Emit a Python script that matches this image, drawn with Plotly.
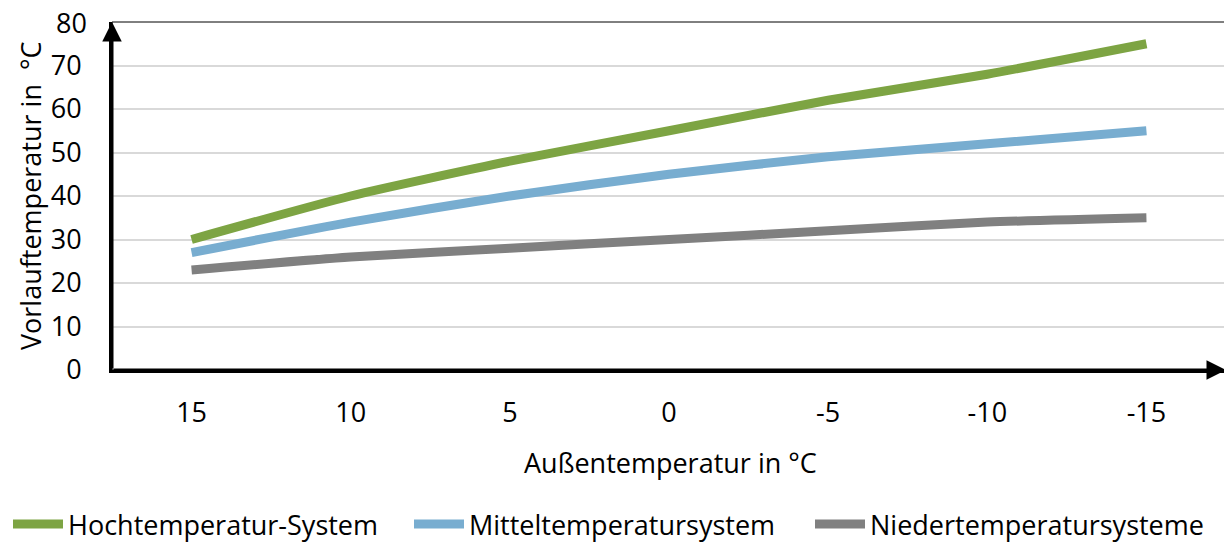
import plotly.graph_objects as go

categories = ["15", "10", "5", "0", "-5", "-10", "-15"]
hoch = [30, 40, 48, 55, 62, 68, 75]
mittel = [27, 34, 40, 45, 49, 52, 55]
nieder = [23, 26, 28, 30, 32, 34, 35]
series_names = ["Hochtemperatur-System", "Mitteltemperatursystem", "Niedertemperatursysteme"]
colors = ["#7DA443", "#78ADD0", "#808080"]
y_ticks = [0, 10, 20, 30, 40, 50, 60, 70, 80]

FONT = "Open Sans"
FS = 27
# page body has an 8px margin, so the figure is 8px smaller and shifted
L, T, R, B = 104, 14, 6, 172
W, H = 1224, 534
PW, PH = W - L - R, H - T - B

fig = go.Figure()
for name, vals, col in zip(series_names, [hoch, mittel, nieder], colors):
    fig.add_trace(go.Scatter(x=categories, y=vals, name=name, mode="lines",
                             line=dict(color=col, width=9, shape="spline", smoothing=0.6)))

fig.update_layout(
    width=W, height=H,
    margin=dict(l=L, r=R, t=T, b=B, autoexpand=False),
    plot_bgcolor="white", paper_bgcolor="white",
    font=dict(family=FONT, size=FS, color="#000000"),
    showlegend=True,
    legend=dict(orientation="h", x=-(L - 0) / PW, xanchor="left", y=-(492 - (T + PH)) / PH,
                yanchor="top", font=dict(size=FS), tracegroupgap=0,
                itemwidth=50, entrywidth=336),
    xaxis=dict(type="category", range=[-0.5, 6.5], showgrid=False, zeroline=False,
               showline=True, linecolor="black", linewidth=3, ticks="",
               ticklabelstandoff=17, tickfont=dict(size=FS)),
    yaxis=dict(range=[0, 80], tickvals=y_ticks, showgrid=True, gridcolor="#D9D9D9", gridwidth=1.5,
               zeroline=False, showline=True, linecolor="black", linewidth=3, ticks="",
               ticklabelstandoff=22, tickfont=dict(size=FS)),
)

# top tick label (drawn as annotation so it is not dropped at the figure edge)
fig.add_annotation(xref="paper", yref="y", x=-24 / PW, y=y_ticks[-1], text=str(y_ticks[-1]),
                   showarrow=False, xanchor="right", yanchor="middle", font=dict(size=FS),
                   height=28, borderpad=0, valign="middle")

# thin border on top/right
fig.add_shape(type="rect", xref="paper", yref="paper", x0=0, y0=0, x1=1, y1=1,
              line=dict(color="black", width=1), layer="below")

# arrows on axes
fig.add_annotation(xref="x domain", yref="y domain", axref="x domain", ayref="y domain",
                   x=0, y=1, ax=0, ay=0, showarrow=True, arrowhead=2, arrowsize=1.3,
                   arrowwidth=3, arrowcolor="black", text="")
fig.add_annotation(xref="x domain", yref="y domain", axref="x domain", ayref="y domain",
                   x=1, y=0, ax=0, ay=0, showarrow=True, arrowhead=2, arrowsize=1.3,
                   arrowwidth=3, arrowcolor="black", text="")

# axis titles
fig.add_annotation(xref="paper", yref="paper", x=(662 - L) / PW, y=-(454 - (T + PH)) / PH,
                   text="Außentemperatur in °C", showarrow=False, font=dict(size=FS),
                   xanchor="center", yanchor="middle")
fig.add_annotation(xref="paper", yref="paper", x=-(L - 22) / PW, y=0.5,
                   text="Vorlauftemperatur in  °C", showarrow=False, font=dict(size=FS),
                   textangle=-90, xanchor="center", yanchor="middle")

fig.write_html("out.html")
